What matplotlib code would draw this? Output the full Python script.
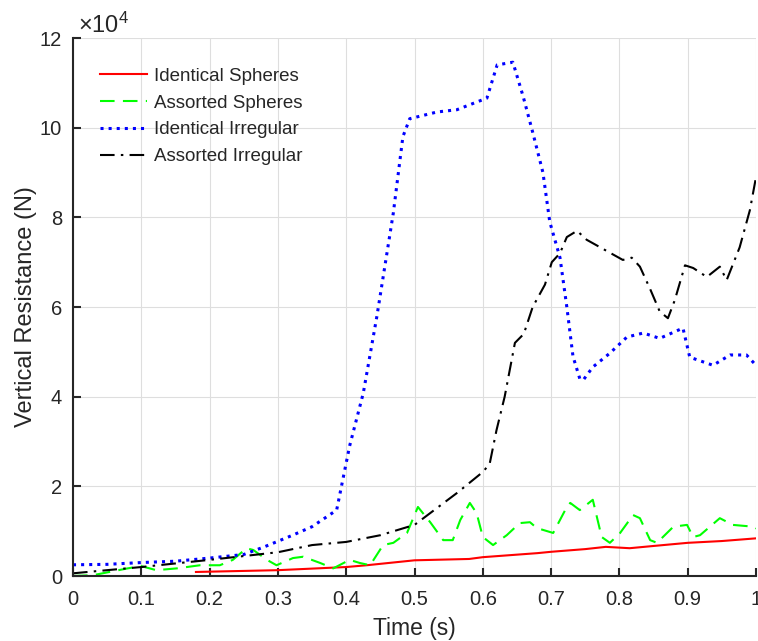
import matplotlib
matplotlib.use("agg")
from matplotlib import pyplot as plt
import numpy as np

# Identical Spheres (red)
t_red = [0.18, 0.30, 0.40, 0.43, 0.50, 0.58, 0.60, 0.68, 0.70, 0.75, 0.78, 0.815,
         0.85, 0.90, 0.95, 1.00]
f_red = [900, 1300, 2000, 2400, 3500, 3800, 4200, 5100, 5400, 6000, 6500, 6200,
         6700, 7400, 7800, 8400]

# Assorted Spheres (green)
t_green = [0.0, 0.03, 0.08, 0.10, 0.122, 0.152, 0.186, 0.215, 0.234, 0.254, 0.264,
           0.284, 0.298, 0.322, 0.337, 0.362, 0.381, 0.405, 0.42, 0.435, 0.454,
           0.469, 0.489, 0.505, 0.523, 0.542, 0.556, 0.567, 0.581, 0.591, 0.60,
           0.615, 0.635, 0.654, 0.669, 0.679, 0.703, 0.723, 0.728, 0.742, 0.761,
           0.774, 0.786, 0.801, 0.82, 0.83, 0.845, 0.855, 0.879, 0.899, 0.908,
           0.918, 0.947, 0.966, 0.996, 1.0]
f_green = [0, 200, 1700, 2200, 1300, 1700, 2400, 2400, 3600, 6200, 5800,
           3600, 2400, 4000, 4300, 2900, 1700, 3600, 2900, 2400, 6900,
           7400, 9600, 15400, 12000, 8000, 8000, 12500, 16300, 14000, 8700,
           6900, 9100, 11800, 12000, 10700, 9600, 15400, 16300, 14700, 17000,
           8700, 7400, 9600, 13600, 12900, 8000, 7400, 11000, 11400, 8700,
           9100, 12900, 11400, 11000, 10600]

# Identical Irregular (blue)
t_blue = [0.0, 0.05, 0.10, 0.15, 0.20, 0.25, 0.28, 0.32, 0.35, 0.386, 0.405,
          0.425, 0.445, 0.469, 0.483, 0.493, 0.533, 0.562, 0.606, 0.621, 0.644,
          0.659, 0.673, 0.688, 0.698, 0.713, 0.723, 0.732, 0.742, 0.747, 0.761,
          0.786, 0.811, 0.835, 0.859, 0.893, 0.903, 0.937, 0.962, 0.986, 1.0]
f_blue = [2500, 2600, 3000, 3300, 4000, 4800, 6500, 9000, 11000, 14700, 29000,
          40800, 58000, 81000, 98000, 102000, 103500, 104000, 106600, 114000, 114600,
          107000, 99000, 90000, 79000, 71000, 60000, 49000, 44000, 43700, 46600,
          49700, 53300, 54200, 53000, 55300, 48800, 47000, 49300, 49300, 47000]

# Assorted Irregular (black)
t_black = [0.0, 0.10, 0.20, 0.30, 0.35, 0.40, 0.45, 0.50, 0.562, 0.60, 0.61,
           0.62, 0.632, 0.647, 0.66, 0.673, 0.691, 0.701, 0.713, 0.723, 0.738,
           0.752, 0.772, 0.805, 0.818, 0.83, 0.845, 0.859, 0.871, 0.881, 0.896,
           0.908, 0.928, 0.947, 0.957, 0.976, 0.991, 1.0]
f_black = [600, 2000, 3600, 5300, 6900, 7600, 9100, 11400, 18500, 23200, 25000,
           32500, 40000, 52000, 54000, 60000, 65000, 70000, 72000, 75600, 77000,
           75000, 73300, 70500, 71000, 69000, 64000, 59000, 57500, 61500, 69300,
           68700, 66700, 69000, 66000, 73300, 81600, 89000]

plt.rcParams["font.family"] = ["Liberation Sans", "DejaVu Sans"]
plt.rcParams["mathtext.fontset"] = "custom"
plt.rcParams["mathtext.rm"] = "Liberation Sans"
plt.rcParams["mathtext.it"] = "Liberation Sans:italic"

fig = plt.figure(figsize=(7.58, 6.41), dpi=100)
ax = fig.add_axes([0.0963, 0.1014, 0.9011, 0.8393])

dark = "#262626"
ax.plot(t_red, np.array(f_red) / 1e4, color="#ff0000", lw=1.5, label="Identical Spheres")
ax.plot(t_green, np.array(f_green) / 1e4, color="#00ff00", lw=1.5,
        dashes=(7, 4), label="Assorted Spheres")
ax.plot(t_blue, np.array(f_blue) / 1e4, color="#0000ff", lw=2.2, ls=":",
        label="Identical Irregular")
ax.plot(t_black, np.array(f_black) / 1e4, color="black", lw=1.5,
        dashes=(7, 3, 1.2, 3), label="Assorted Irregular")

ax.set_xlim(0, 1)
ax.set_ylim(0, 12)
ax.set_xticks(np.arange(0, 1.01, 0.1))
ax.set_xticklabels(["0", "0.1", "0.2", "0.3", "0.4", "0.5", "0.6", "0.7", "0.8", "0.9", "1"])
ax.set_yticks(np.arange(0, 13, 2))
ax.grid(True, color="#dedede", lw=0.8)
ax.set_axisbelow(True)
for s in ["top", "right"]:
    ax.spines[s].set_visible(False)
for s in ["left", "bottom"]:
    ax.spines[s].set_color(dark)
    ax.spines[s].set_linewidth(1.5)
ax.tick_params(direction="in", length=6, width=1.5, colors=dark, labelsize=14.5)
ax.tick_params(axis="x", pad=10)
ax.tick_params(axis="y", pad=8)

ax.set_xlabel("Time (s)", fontsize=16.5, color=dark, labelpad=6)
ax.set_ylabel("Vertical Resistance (N)", fontsize=17, color=dark, labelpad=2)
ax.text(0.007, 1.009, r"$\times\mathregular{10^{4}}$", transform=ax.transAxes,
        fontsize=17, color=dark, ha="left", va="baseline")

ax.legend(loc="upper left", bbox_to_anchor=(0.0395, 0.945), frameon=False,
          borderpad=0, borderaxespad=0,
          fontsize=13.5, handlelength=2.5, handletextpad=0.4, labelspacing=0.52,
          labelcolor=dark)

fig.savefig("out.png")
plt.close()
